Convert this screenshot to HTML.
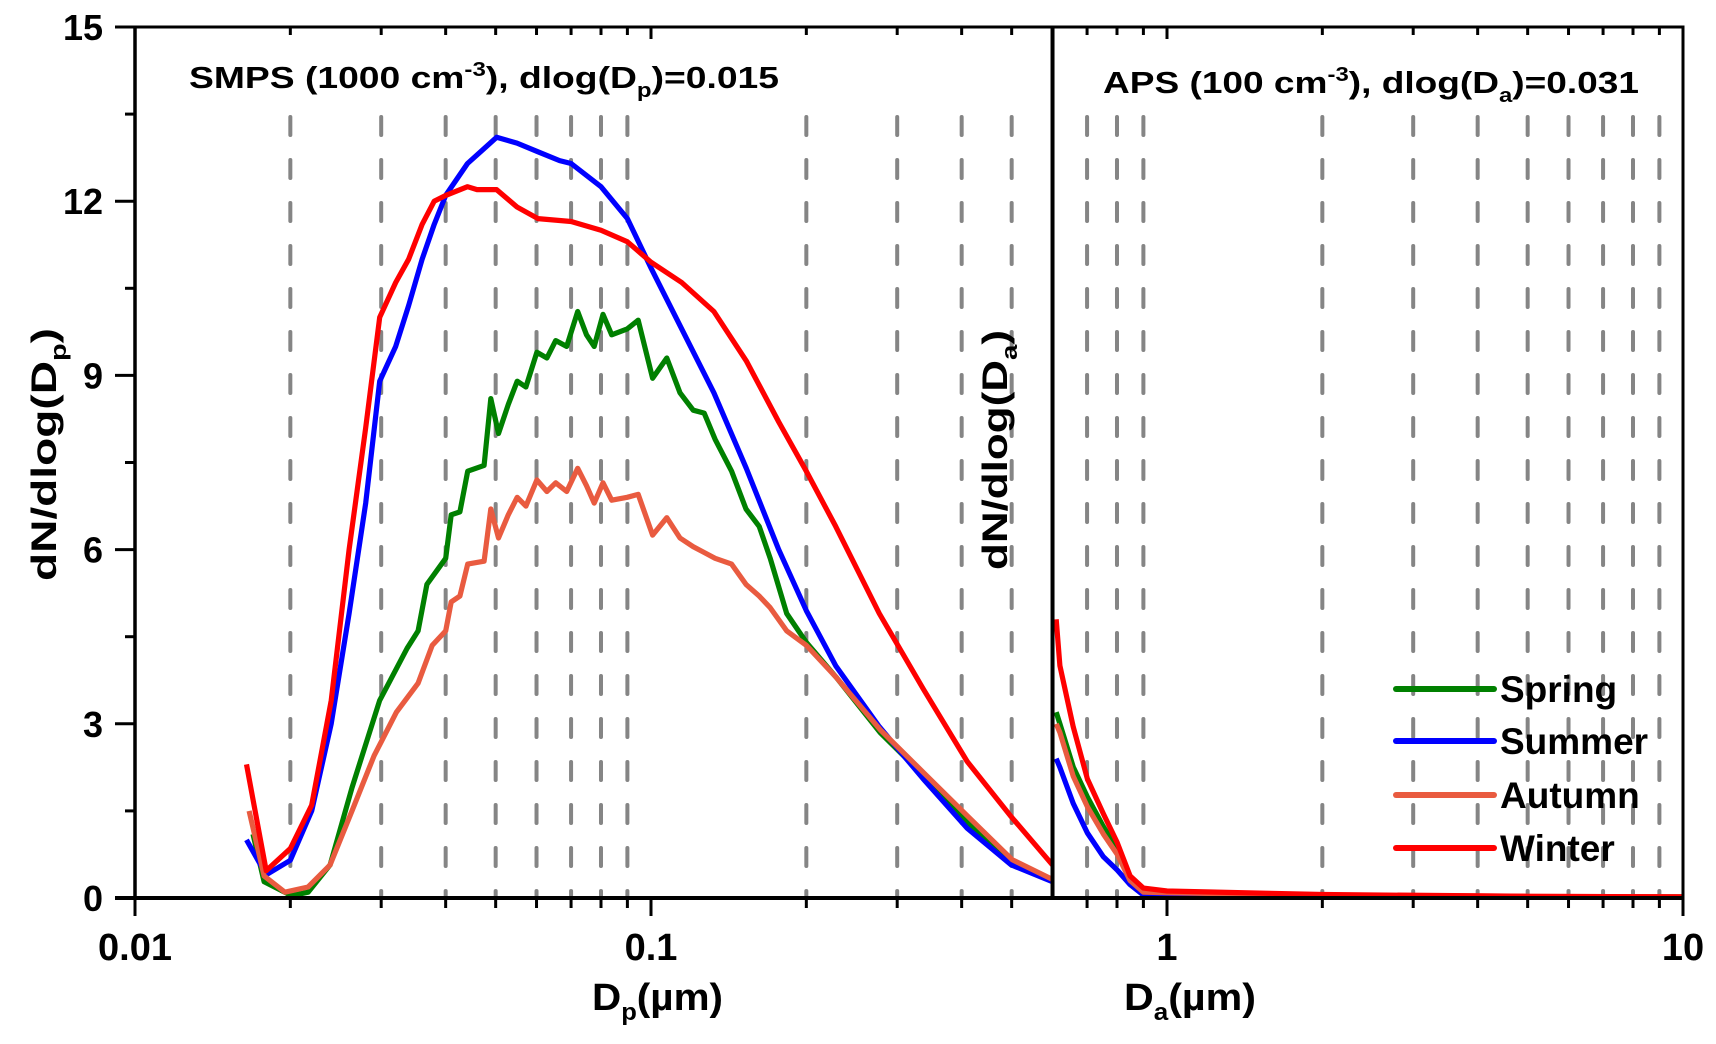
<!DOCTYPE html>
<html><head><meta charset="utf-8"><style>
html,body{margin:0;padding:0;background:#fff;}
svg{display:block;font-family:"Liberation Sans",Arial,sans-serif;font-weight:bold;}
</style></head><body>
<svg id="chart" width="1716" height="1044" viewBox="0 0 1716 1044">
<rect x="0" y="0" width="1716" height="1044" fill="#fff"/>
<g id="grid"></g>
<g id="series"></g>
<g id="axes"></g>
<text x="189" y="88" font-size="31" textLength="590" lengthAdjust="spacingAndGlyphs">SMPS (1000 cm<tspan dy="-12" font-size="20">-3</tspan><tspan dy="12">), dlog(D</tspan><tspan dy="9" font-size="20">p</tspan><tspan dy="-9">)=0.015</tspan></text>
<text x="1103" y="93" font-size="31" textLength="536" lengthAdjust="spacingAndGlyphs">APS (100 cm<tspan dy="-12" font-size="20">-3</tspan><tspan dy="12">), dlog(D</tspan><tspan dy="9" font-size="20">a</tspan><tspan dy="-9">)=0.031</tspan></text>
<text x="592" y="1010" font-size="38" textLength="131" lengthAdjust="spacingAndGlyphs">D<tspan dy="10" font-size="24">p</tspan><tspan dy="-10">(µm)</tspan></text>
<text x="1124" y="1010" font-size="38" textLength="132" lengthAdjust="spacingAndGlyphs">D<tspan dy="10" font-size="24">a</tspan><tspan dy="-10">(µm)</tspan></text>
<text transform="translate(56,581) rotate(-90)" font-size="35" textLength="253" lengthAdjust="spacingAndGlyphs">dN/dlog(D<tspan dy="10" font-size="22">p</tspan><tspan dy="-10">)</tspan></text>
<text transform="translate(1007,570) rotate(-90)" font-size="35" textLength="240" lengthAdjust="spacingAndGlyphs">dN/dlog(D<tspan dy="10" font-size="22">a</tspan><tspan dy="-10">)</tspan></text>
<g id="legend"></g>
</svg>
<script>
const NS='http://www.w3.org/2000/svg';
const seriesNames=['Spring','Summer','Autumn','Winter'];
const seriesColors=['#008000','#0000ff','#e95b40','#ff0000'];
const springD=[0.01693,0.01779,0.02011,0.02165,0.02388,0.02634,0.02979,0.03368,0.03537,0.03678,0.0400,0.0410,0.04263,0.04413,0.04749,0.04892,0.05063,0.05291,0.05504,0.05723,0.0601,0.06283,0.06535,0.06864,0.0721,0.07499,0.0776,0.08071,0.08393,0.08991,0.09443,0.1007,0.1073,0.1138,0.1207,0.1268,0.1331,0.1433,0.1528,0.1621,0.1702,0.1832,0.2001,0.2285,0.278,0.3383,0.4118,0.5012,0.6];
const springN=[1.1,0.28,0.04,0.1,0.57,1.9,3.4,4.3,4.6,5.4,5.85,6.6,6.65,7.35,7.45,8.6,8.0,8.5,8.9,8.8,9.4,9.3,9.6,9.5,10.1,9.7,9.5,10.05,9.7,9.8,9.95,8.95,9.3,8.7,8.4,8.35,7.9,7.35,6.7,6.4,5.85,4.9,4.4,3.8,2.85,2.1,1.3,0.57,0.3];
const autumnD=[0.01664,0.01779,0.01952,0.02165,0.02388,0.02634,0.02907,0.0321,0.03537,0.03766,0.0400,0.0410,0.04263,0.04413,0.04749,0.04892,0.05063,0.05291,0.05504,0.05723,0.0601,0.06283,0.06535,0.06864,0.0721,0.07499,0.0776,0.08071,0.08393,0.08991,0.09443,0.1007,0.1073,0.1138,0.1207,0.1268,0.1331,0.1433,0.1528,0.1621,0.1702,0.1832,0.2001,0.2285,0.278,0.3383,0.4118,0.5012,0.6];
const autumnN=[1.5,0.38,0.1,0.19,0.57,1.5,2.45,3.2,3.7,4.35,4.6,5.1,5.2,5.75,5.8,6.7,6.2,6.6,6.9,6.75,7.2,7.0,7.15,7.0,7.4,7.1,6.8,7.15,6.85,6.9,6.95,6.25,6.55,6.2,6.05,5.95,5.85,5.75,5.4,5.2,5.0,4.6,4.35,3.8,2.9,2.15,1.4,0.66,0.32];
const summerD=[0.01645,0.01796,0.020,0.022,0.024,0.026,0.028,0.0298,0.032,0.0339,0.036,0.038,0.040,0.0441,0.0474,0.0502,0.055,0.0604,0.0665,0.070,0.080,0.090,0.100,0.1147,0.1324,0.153,0.1768,0.200,0.228,0.277,0.337,0.410,0.499,0.6];
const summerN=[1.0,0.4,0.65,1.5,3.0,4.9,6.8,8.9,9.5,10.2,11.0,11.6,12.1,12.65,12.9,13.1,13.0,12.85,12.7,12.65,12.25,11.7,10.85,9.8,8.7,7.4,6.0,4.95,4.0,2.95,2.05,1.2,0.57,0.28];
const winterD=[0.01645,0.01796,0.020,0.022,0.024,0.026,0.028,0.0298,0.032,0.0339,0.036,0.038,0.040,0.0441,0.046,0.0502,0.055,0.0604,0.070,0.080,0.090,0.100,0.1147,0.1324,0.153,0.1768,0.200,0.228,0.277,0.337,0.410,0.499,0.6];
const winterN=[2.3,0.47,0.85,1.6,3.4,6.0,8.1,10.0,10.6,11.0,11.6,12.0,12.1,12.25,12.2,12.2,11.9,11.7,11.65,11.5,11.3,10.95,10.6,10.1,9.25,8.2,7.35,6.4,4.9,3.6,2.35,1.4,0.57];
const apsD=[0.61,0.62,0.658,0.701,0.753,0.801,0.848,0.9,1.0,2.0,5.0,10.0];
const apsSpring=[3.2,3.0,2.26,1.74,1.23,0.83,0.31,0.1,0.08,0.04,0.02,0.02];
const apsSummer=[2.4,2.25,1.63,1.12,0.71,0.48,0.23,0.05,0.03,0.02,0.01,0.01];
const apsAutumn=[3.0,2.85,2.1,1.57,1.1,0.75,0.3,0.1,0.09,0.05,0.03,0.02];
const apsWinter=[4.8,4.0,2.95,2.05,1.45,0.95,0.38,0.17,0.12,0.06,0.03,0.02];
const yTicks=[0,3,6,9,12,15];
const xTickVals=[0.01,0.1,1,10];
const xTickLabels=['0.01','0.1','1','10'];
const dashMinorLeft=[0.02,0.03,0.04,0.05,0.06,0.07,0.08,0.09,0.2,0.3,0.4,0.5];
const dashMinorRight=[0.7,0.8,0.9,2,3,4,5,6,7,8,9];
const divider=0.6;

const X0=135,DEC=516,Y0=898,YTOP=27,YMAX=15;
function xs(d){return X0+DEC*(Math.log10(d)+2);}
function ys(v){return Y0-(Y0-YTOP)*v/YMAX;}
function mk(tag,attrs,parent){const e=document.createElementNS(NS,tag);for(const k in attrs)e.setAttribute(k,attrs[k]);parent.appendChild(e);return e;}
const grid=document.getElementById('grid'),ser=document.getElementById('series'),ax=document.getElementById('axes'),leg=document.getElementById('legend');
const XR=xs(10), XD=xs(divider);
dashMinorLeft.concat(dashMinorRight).forEach(v=>{
  const l=mk('line',{x1:xs(v),x2:xs(v),y1:117,y2:Y0,stroke:'#858585','stroke-width':4,'stroke-dasharray':'18 25','stroke-linecap':'round'},grid);
  
  
});
function drawLine(D,N,color,name){
  let d='';D.forEach((x,i)=>{d+=(i?'L':'M')+xs(x).toFixed(1)+','+ys(N[i]).toFixed(1);});
  const p=mk('path',{d:d,fill:'none',stroke:color,'stroke-width':5.2,'stroke-linejoin':'round'},ser);
  
  
}
drawLine(springD,springN,seriesColors[0],'spring-smps-line');
drawLine(summerD,summerN,seriesColors[1],'summer-smps-line');
drawLine(autumnD,autumnN,seriesColors[2],'autumn-smps-line');
drawLine(winterD,winterN,seriesColors[3],'winter-smps-line');
drawLine(apsD,apsSpring,seriesColors[0],'spring-aps-line');
drawLine(apsD,apsSummer,seriesColors[1],'summer-aps-line');
drawLine(apsD,apsAutumn,seriesColors[2],'autumn-aps-line');
drawLine(apsD,apsWinter,seriesColors[3],'winter-aps-line');
const fr=mk('path',{d:`M${X0},${YTOP}H${XR}V${Y0}`,fill:'none',stroke:'#000','stroke-width':3},ax);


const yl=mk('line',{x1:X0,x2:X0,y1:YTOP,y2:Y0,stroke:'#000','stroke-width':3.5},ax);


const xl=mk('line',{x1:X0-20,x2:XR,y1:Y0,y2:Y0,stroke:'#000','stroke-width':4},ax);


const dv=mk('line',{x1:XD,x2:XD,y1:YTOP,y2:Y0,stroke:'#000','stroke-width':4},ax);


yTicks.forEach(v=>{
  const t=mk('line',{x1:X0-20,x2:X0,y1:ys(v),y2:ys(v),stroke:'#000','stroke-width':3},ax);
  
  
  const tx=mk('text',{x:X0-32,y:ys(v)+13,'font-size':36,'text-anchor':'end'},ax);
  tx.textContent=String(v);
  
  
  if(v<15){const m=mk('line',{x1:X0-10,x2:X0,y1:ys(v+1.5),y2:ys(v+1.5),stroke:'#000','stroke-width':3},ax);
  
  }
});
xTickVals.forEach((v,i)=>{
  const t=mk('line',{x1:xs(v),x2:xs(v),y1:Y0,y2:Y0+18,stroke:'#000','stroke-width':3},ax);
  
  
  const tt=mk('line',{x1:xs(v),x2:xs(v),y1:YTOP,y2:YTOP+12,stroke:'#000','stroke-width':3},ax);
  
  
  const tx=mk('text',{x:xs(v),y:Y0+62,'font-size':38,'text-anchor':'middle'},ax);
  tx.textContent=xTickLabels[i];
  
  
});
dashMinorLeft.concat(dashMinorRight).forEach(v=>{
  const t=mk('line',{x1:xs(v),x2:xs(v),y1:Y0,y2:Y0+10,stroke:'#000','stroke-width':3},ax);
  
  
  const tt=mk('line',{x1:xs(v),x2:xs(v),y1:YTOP,y2:YTOP+8,stroke:'#000','stroke-width':3},ax);
  
  
});
const legY=[689,741,795,848];
seriesNames.forEach((n,i)=>{
  const l=mk('line',{x1:1396,x2:1494,y1:legY[i],y2:legY[i],stroke:seriesColors[i],'stroke-width':6,'stroke-linecap':'round'},leg);
  
  
  const t=mk('text',{x:1500,y:legY[i]+13,'font-size':37},leg);
  t.textContent=n;
  
  
});
</script>
</body></html>
